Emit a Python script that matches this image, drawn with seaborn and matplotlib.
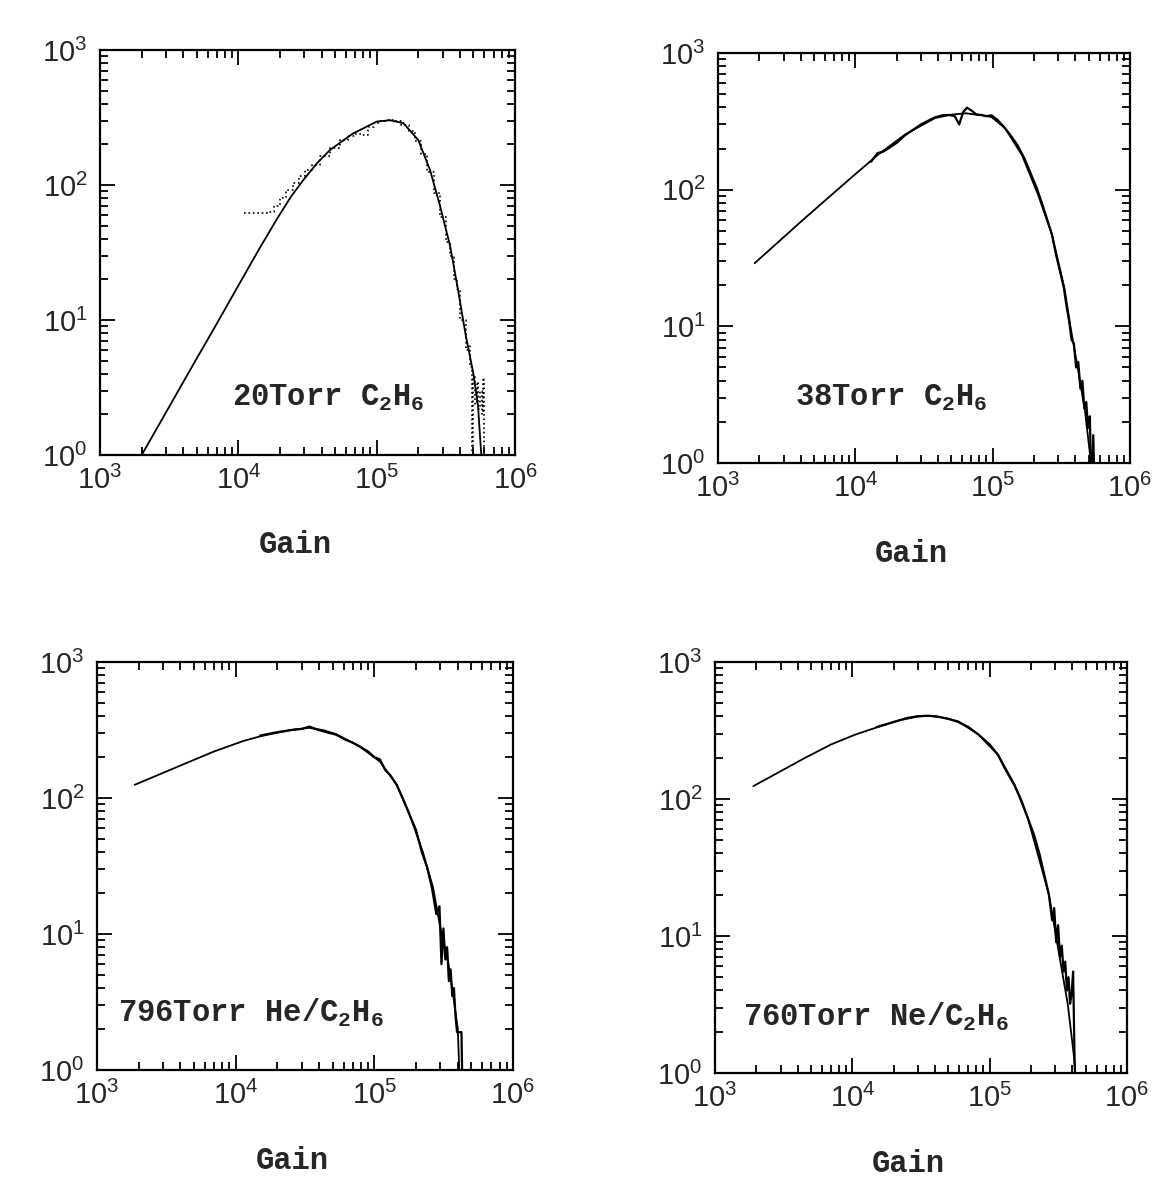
import seaborn as sns
import matplotlib.pyplot as plt
import pandas as pd

# Painel 1 - 20Torr C2H6
fit1_x = [2.0e3, 3.0e3, 4.5e3, 6.9e3, 1.0e4, 1.4e4, 1.9e4, 2.4e4, 2.95e4, 3.7e4, 4.6e4,
          6.7e4, 1.0e5, 1.25e5, 1.56e5, 2.0e5, 2.43e5, 2.88e5, 3.4e5, 3.9e5, 4.37e5,
          5.0e5, 5.4e5, 5.7e5]
fit1_y = [1.0, 2.07, 4.3, 9.2, 18, 33, 56, 82, 109, 145, 182,
          240, 295, 302, 287, 215, 129, 69, 35, 16, 8.0,
          4.0, 2.3, 1.0]
data1_x = [1.09e4, 1.2e4, 1.35e4, 1.5e4, 1.7e4, 1.9e4, 2.1e4, 2.35e4, 2.6e4, 2.9e4,
           3.2e4, 3.6e4, 4.2e4, 5.0e4, 5.8e4, 6.6e4, 7.4e4, 8.2e4, 9.0e4, 1.0e5,
           1.1e5, 1.25e5, 1.4e5, 1.6e5, 1.8e5, 2.0e5, 2.2e5, 2.45e5, 2.7e5, 3.0e5,
           3.3e5, 3.5e5, 3.7e5, 3.9e5, 4.1e5, 4.3e5, 4.5e5, 4.7e5, 4.8e5, 4.94e5,
           5.05e5, 5.2e5, 5.35e5, 5.5e5, 5.65e5, 5.8e5, 5.95e5, 6.07e5]
data1_y = [62, 62, 62, 62, 63, 70, 80, 92, 103, 116,
           129, 140, 165, 188, 215, 230, 238, 236, 268, 290,
           300, 305, 296, 280, 250, 212, 170, 125, 88, 58,
           38, 30, 20, 17, 10, 10, 6, 6.5, 4.5, 0.5,
           3.8, 2.4, 3.5, 2.2, 3.0, 2.0, 3.7, 0.5]

# Painel 2 - 38Torr C2H6
fit2_x = [1.85e3, 4.3e3, 9.3e3, 1.46e4, 2.3e4, 3.8e4, 5.0e4, 6.4e4, 8.3e4, 9.8e4,
          1.23e5, 1.63e5, 2.14e5, 2.7e5, 3.33e5, 3.7e5, 4.2e5, 4.7e5, 5.2e5]
fit2_y = [29, 62, 122, 180, 253, 334, 354, 362, 350, 340,
          282, 180, 92, 47, 19, 9.7, 4.7, 2.4, 1.0]
data2_x = [1.3e4, 1.45e4, 1.6e4, 1.8e4, 2.0e4, 2.3e4, 2.6e4, 3.0e4, 3.4e4, 3.8e4,
           4.3e4, 4.8e4, 5.3e4, 5.7e4, 6.1e4, 6.5e4, 7.0e4, 7.6e4, 8.3e4, 9.0e4,
           9.8e4, 1.08e5, 1.2e5, 1.35e5, 1.5e5, 1.7e5, 1.9e5, 2.1e5, 2.3e5, 2.5e5,
           2.7e5, 2.9e5, 3.1e5, 3.3e5, 3.45e5, 3.6e5, 3.75e5, 3.9e5, 4.05e5, 4.2e5,
           4.35e5, 4.5e5, 4.65e5, 4.8e5, 4.95e5, 5.1e5, 5.25e5, 5.4e5, 5.55e5, 5.7e5]
data2_y = [160, 185, 190, 205, 220, 250, 272, 300, 320, 338,
           350, 352, 345, 300, 370, 398, 380, 355, 352, 345,
           350, 325, 290, 250, 215, 170, 130, 102, 78, 60,
           47, 33, 25, 19, 14, 11, 8, 7.5, 5, 5.5,
           3.5, 4, 2.5, 2.8, 1.8, 2.2, 0.5, 1.6, 0.5, 0.5]

# Painel 3 - 796Torr He/C2H6
fit3_x = [1.87e3, 4.66e3, 7.0e3, 1.13e4, 1.5e4, 2.0e4, 2.6e4, 3.4e4, 4.3e4, 5.3e4,
          7.8e4, 1.1e5, 1.45e5, 1.8e5, 2.24e5, 2.65e5, 3.0e5, 3.4e5, 3.7e5, 4.0e5, 4.1e5]
fit3_y = [125, 185, 220, 262, 284, 302, 318, 328, 315, 295,
          240, 185, 125, 75, 40, 22, 11, 6.3, 3.6, 2.0, 1.0]
data3_x = [1.5e4, 2.0e4, 2.5e4, 3.0e4, 3.4e4, 3.9e4, 4.5e4, 5.3e4, 6.2e4, 7.0e4,
           7.8e4, 9.0e4, 1.0e5, 1.1e5, 1.2e5, 1.3e5, 1.45e5, 1.6e5, 1.8e5, 2.0e5,
           2.2e5, 2.4e5, 2.6e5, 2.8e5, 2.95e5, 3.05e5, 3.15e5, 3.25e5, 3.35e5, 3.45e5,
           3.55e5, 3.65e5, 3.75e5, 3.85e5, 3.95e5, 4.05e5, 4.15e5, 4.25e5, 4.35e5]
data3_y = [288, 305, 316, 322, 335, 318, 305, 292, 268, 255,
           240, 220, 200, 192, 160, 148, 125, 100, 75, 58,
           40, 31, 22, 14, 16, 6, 11, 6.5, 8, 4.5,
           5.5, 3.5, 4, 2.5, 1.9, 1.9, 1.9, 1.9, 0.5]

# Painel 4 - 760Torr Ne/C2H6
fit4_x = [1.9e3, 4.5e3, 7.0e3, 1.05e4, 1.4e4, 2.2e4, 3.0e4, 3.6e4, 4.2e4, 5.9e4,
          8.3e4, 1.15e5, 1.52e5, 1.9e5, 2.25e5, 2.7e5, 3.0e5, 3.3e5, 3.7e5, 4.1e5, 4.2e5]
fit4_y = [124, 199, 250, 295, 325, 375, 400, 405, 400, 369,
          295, 210, 127, 72, 39, 20, 10.8, 6.2, 3.2, 1.35, 1.0]
data4_x = [1.5e4, 2.0e4, 2.5e4, 3.0e4, 3.6e4, 4.2e4, 5.0e4, 5.9e4, 7.0e4, 8.3e4,
           1.0e5, 1.15e5, 1.3e5, 1.5e5, 1.7e5, 1.9e5, 2.1e5, 2.3e5, 2.5e5, 2.7e5,
           2.85e5, 2.95e5, 3.05e5, 3.15e5, 3.25e5, 3.35e5, 3.45e5, 3.55e5, 3.65e5, 3.75e5,
           3.85e5, 3.95e5, 4.05e5, 4.15e5, 4.25e5]
data4_y = [335, 365, 390, 402, 405, 398, 385, 365, 335, 295,
           250, 210, 165, 128, 98, 72, 55, 40, 28, 20,
           13, 16, 9, 12, 7, 8.5, 5.5, 6.5, 4, 5,
           3.2, 3.8, 5.5, 1.3, 0.5]

rotulos = [r"20Torr C$_\mathregular{2}$H$_\mathregular{6}$",
           r"38Torr C$_\mathregular{2}$H$_\mathregular{6}$",
           r"796Torr He/C$_\mathregular{2}$H$_\mathregular{6}$",
           r"760Torr Ne/C$_\mathregular{2}$H$_\mathregular{6}$"]

sns.set_style("ticks")
plt.rcParams['font.family'] = ['Liberation Sans', 'DejaVu Sans']
plt.rcParams['axes.linewidth'] = 1.6

fig = plt.figure(figsize=(11.59, 11.80), dpi=100)

paineis = [
    (fit1_x, fit1_y, data1_x, data1_y, [0.0863, 0.6144, 0.3581, 0.3432], (0.317, 0.14), ':', "steps-mid", 1.2),
    (fit2_x, fit2_y, data2_x, data2_y, [0.6195, 0.6076, 0.3555, 0.3475], (0.187, 0.159), '-', "default", 1.6),
    (fit3_x, fit3_y, data3_x, data3_y, [0.0837, 0.0932, 0.3589, 0.3458], (0.05, 0.14), '-', "default", 1.6),
    (fit4_x, fit4_y, data4_x, data4_y, [0.6169, 0.0907, 0.3555, 0.3483], (0.068, 0.136), '-', "default", 1.6),
]

for (fx, fy, dx, dy, rect, pos, estilo, passo, espessura), rotulo in zip(paineis, rotulos):
    ax = fig.add_axes(rect)
    ax.set(xscale="log", yscale="log", xlim=(1e3, 1e6), ylim=(1, 1e3))

    df_fit = pd.DataFrame({"gain": fx, "counts": fy})
    df_dat = pd.DataFrame({"gain": dx, "counts": dy})
    sns.lineplot(data=df_dat, x="gain", y="counts", ax=ax, color="black",
                 estimator=None, legend=False, drawstyle=passo,
                 linestyle=estilo, linewidth=espessura)
    sns.lineplot(data=df_fit, x="gain", y="counts", ax=ax, color="black",
                 estimator=None, legend=False, linewidth=1.3)

    ax.set_xlim(1e3, 1e6)
    ax.set_ylim(1, 1e3)
    ax.tick_params(which="both", direction="in", top=True, right=True,
                   labelsize=21, width=1.3, color="black")
    ax.tick_params(which="major", length=11)
    ax.tick_params(which="minor", length=6)
    ax.tick_params(axis="x", pad=8)
    ax.tick_params(axis="y", pad=9)
    for s in ax.spines.values():
        s.set_visible(True)
        s.set_color("black")

    ax.set_ylabel("")
    ax.set_xlabel("Gain", fontfamily="Liberation Mono", fontweight="bold", fontsize=22)
    ax.xaxis.label.set_verticalalignment("center")
    ax.xaxis.set_label_coords(0.47, -0.222)

    ax.text(pos[0], pos[1], rotulo, transform=ax.transAxes, ha="left", va="center",
            fontfamily="Liberation Mono", fontweight="bold", fontsize=22)

plt.savefig("out.png", dpi=100)
